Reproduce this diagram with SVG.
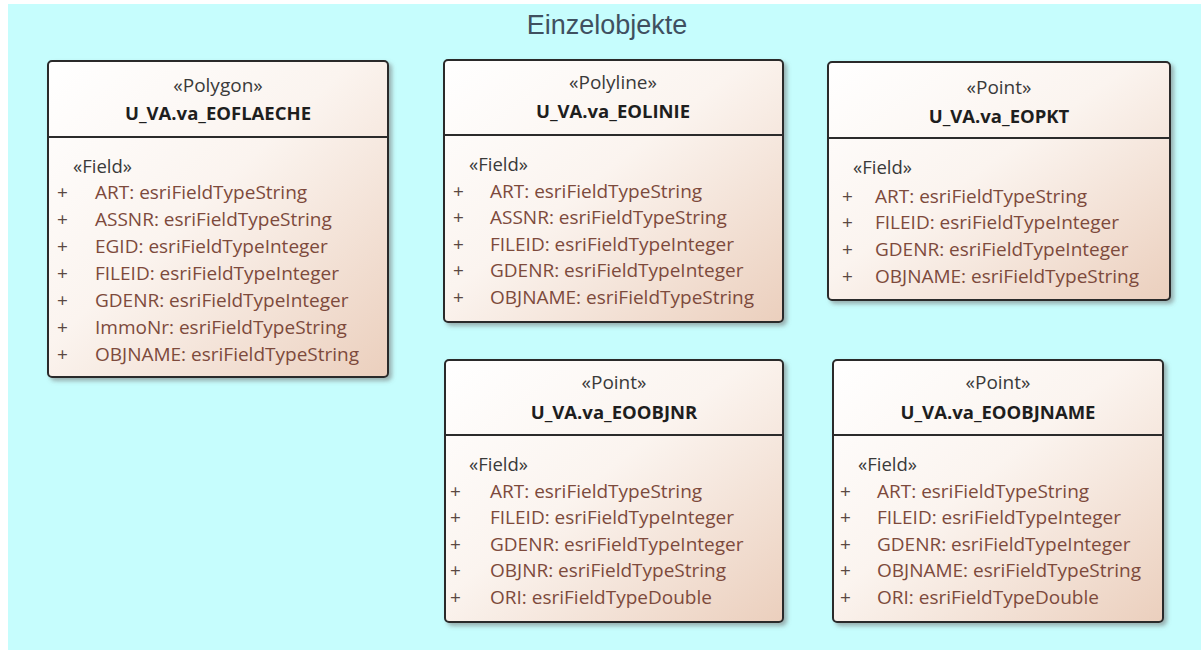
<svg xmlns="http://www.w3.org/2000/svg" width="1201" height="650" viewBox="0 0 1201 650">
<style>
.box{fill:url(#g);stroke:#2b2b2b;stroke-width:2;filter:url(#sh)}
.div{stroke:#2b2b2b;stroke-width:2}
.st{font-family:"Open Sans","Noto Sans",sans-serif;font-size:19px;fill:#3a3a3a;text-anchor:middle}
.nm{font-family:"Open Sans","Noto Sans",sans-serif;font-size:18.5px;font-weight:bold;fill:#1e1e1e;text-anchor:middle}
.fs{font-family:"Open Sans","Noto Sans",sans-serif;font-size:18.5px;fill:#3a3a3a}
.pl{font-family:"Open Sans","Noto Sans",sans-serif;font-size:19px;fill:#5a4842}
.at{font-family:"Open Sans","Noto Sans",sans-serif;font-size:19px;fill:#7d4a3c}
.ttl{font-family:"Liberation Sans",Arial,sans-serif;font-size:27px;fill:#3f5060;text-anchor:middle}
</style>
<defs>
<linearGradient id="g" x1="0" y1="0" x2="1" y2="1">
<stop offset="0" stop-color="#ffffff"/>
<stop offset="0.45" stop-color="#fbf4ef"/>
<stop offset="1" stop-color="#ebcfbd"/>
</linearGradient>
<filter id="sh" x="-5%" y="-5%" width="115%" height="115%">
<feDropShadow dx="3" dy="3" stdDeviation="2" flood-color="#707070" flood-opacity="0.55"/>
</filter>
</defs>
<rect x="8" y="4" width="1193" height="646" fill="#c6fdfd"/>
<text class="ttl" x="607" y="34">Einzelobjekte</text>
<g id="connectors"></g>

<g id="EOFLAECHE">
<rect class="box" x="48" y="61" width="340" height="316" rx="4"/>
<line class="div" x1="48" y1="137" x2="388" y2="137"/>
<text class="st" x="218" y="92">«Polygon»</text>
<text class="nm" x="218" y="120">U_VA.va_EOFLAECHE</text>
<text class="fs" x="73" y="173">«Field»</text>
<text class="pl" x="57" y="199">+</text><text class="at" x="95" y="199">ART: esriFieldTypeString</text>
<text class="pl" x="57" y="226">+</text><text class="at" x="95" y="226">ASSNR: esriFieldTypeString</text>
<text class="pl" x="57" y="253">+</text><text class="at" x="95" y="253">EGID: esriFieldTypeInteger</text>
<text class="pl" x="57" y="280">+</text><text class="at" x="95" y="280">FILEID: esriFieldTypeInteger</text>
<text class="pl" x="57" y="307">+</text><text class="at" x="95" y="307">GDENR: esriFieldTypeInteger</text>
<text class="pl" x="57" y="334">+</text><text class="at" x="95" y="334">ImmoNr: esriFieldTypeString</text>
<text class="pl" x="57" y="361">+</text><text class="at" x="95" y="361">OBJNAME: esriFieldTypeString</text>
</g>

<g id="EOLINIE">
<rect class="box" x="444" y="60" width="339" height="262" rx="4"/>
<line class="div" x1="444" y1="135" x2="783" y2="135"/>
<text class="st" x="613" y="89">«Polyline»</text>
<text class="nm" x="613" y="118">U_VA.va_EOLINIE</text>
<text class="fs" x="469" y="171">«Field»</text>
<text class="pl" x="453" y="198">+</text><text class="at" x="490" y="198">ART: esriFieldTypeString</text>
<text class="pl" x="453" y="224">+</text><text class="at" x="490" y="224">ASSNR: esriFieldTypeString</text>
<text class="pl" x="453" y="251">+</text><text class="at" x="490" y="251">FILEID: esriFieldTypeInteger</text>
<text class="pl" x="453" y="277">+</text><text class="at" x="490" y="277">GDENR: esriFieldTypeInteger</text>
<text class="pl" x="453" y="304">+</text><text class="at" x="490" y="304">OBJNAME: esriFieldTypeString</text>
</g>

<g id="EOPKT">
<rect class="box" x="828" y="62" width="342" height="238" rx="4"/>
<line class="div" x1="828" y1="138" x2="1170" y2="138"/>
<text class="st" x="999" y="94">«Point»</text>
<text class="nm" x="999" y="123">U_VA.va_EOPKT</text>
<text class="fs" x="853" y="174">«Field»</text>
<text class="pl" x="842" y="203">+</text><text class="at" x="875" y="203">ART: esriFieldTypeString</text>
<text class="pl" x="842" y="229">+</text><text class="at" x="875" y="229">FILEID: esriFieldTypeInteger</text>
<text class="pl" x="842" y="256">+</text><text class="at" x="875" y="256">GDENR: esriFieldTypeInteger</text>
<text class="pl" x="842" y="283">+</text><text class="at" x="875" y="283">OBJNAME: esriFieldTypeString</text>
</g>

<g id="EOOBJNR">
<rect class="box" x="445" y="360" width="338" height="262" rx="4"/>
<line class="div" x1="445" y1="435" x2="783" y2="435"/>
<text class="st" x="614" y="389">«Point»</text>
<text class="nm" x="614" y="419">U_VA.va_EOOBJNR</text>
<text class="fs" x="469" y="471">«Field»</text>
<text class="pl" x="450" y="498">+</text><text class="at" x="490" y="498">ART: esriFieldTypeString</text>
<text class="pl" x="450" y="524">+</text><text class="at" x="490" y="524">FILEID: esriFieldTypeInteger</text>
<text class="pl" x="450" y="551">+</text><text class="at" x="490" y="551">GDENR: esriFieldTypeInteger</text>
<text class="pl" x="450" y="577">+</text><text class="at" x="490" y="577">OBJNR: esriFieldTypeString</text>
<text class="pl" x="450" y="604">+</text><text class="at" x="490" y="604">ORI: esriFieldTypeDouble</text>
</g>

<g id="EOOBJNAME">
<rect class="box" x="833" y="360" width="330" height="262" rx="4"/>
<line class="div" x1="833" y1="435" x2="1163" y2="435"/>
<text class="st" x="998" y="389">«Point»</text>
<text class="nm" x="998" y="419">U_VA.va_EOOBJNAME</text>
<text class="fs" x="858" y="471">«Field»</text>
<text class="pl" x="840" y="498">+</text><text class="at" x="877" y="498">ART: esriFieldTypeString</text>
<text class="pl" x="840" y="524">+</text><text class="at" x="877" y="524">FILEID: esriFieldTypeInteger</text>
<text class="pl" x="840" y="551">+</text><text class="at" x="877" y="551">GDENR: esriFieldTypeInteger</text>
<text class="pl" x="840" y="577">+</text><text class="at" x="877" y="577">OBJNAME: esriFieldTypeString</text>
<text class="pl" x="840" y="604">+</text><text class="at" x="877" y="604">ORI: esriFieldTypeDouble</text>
</g>
</svg>
